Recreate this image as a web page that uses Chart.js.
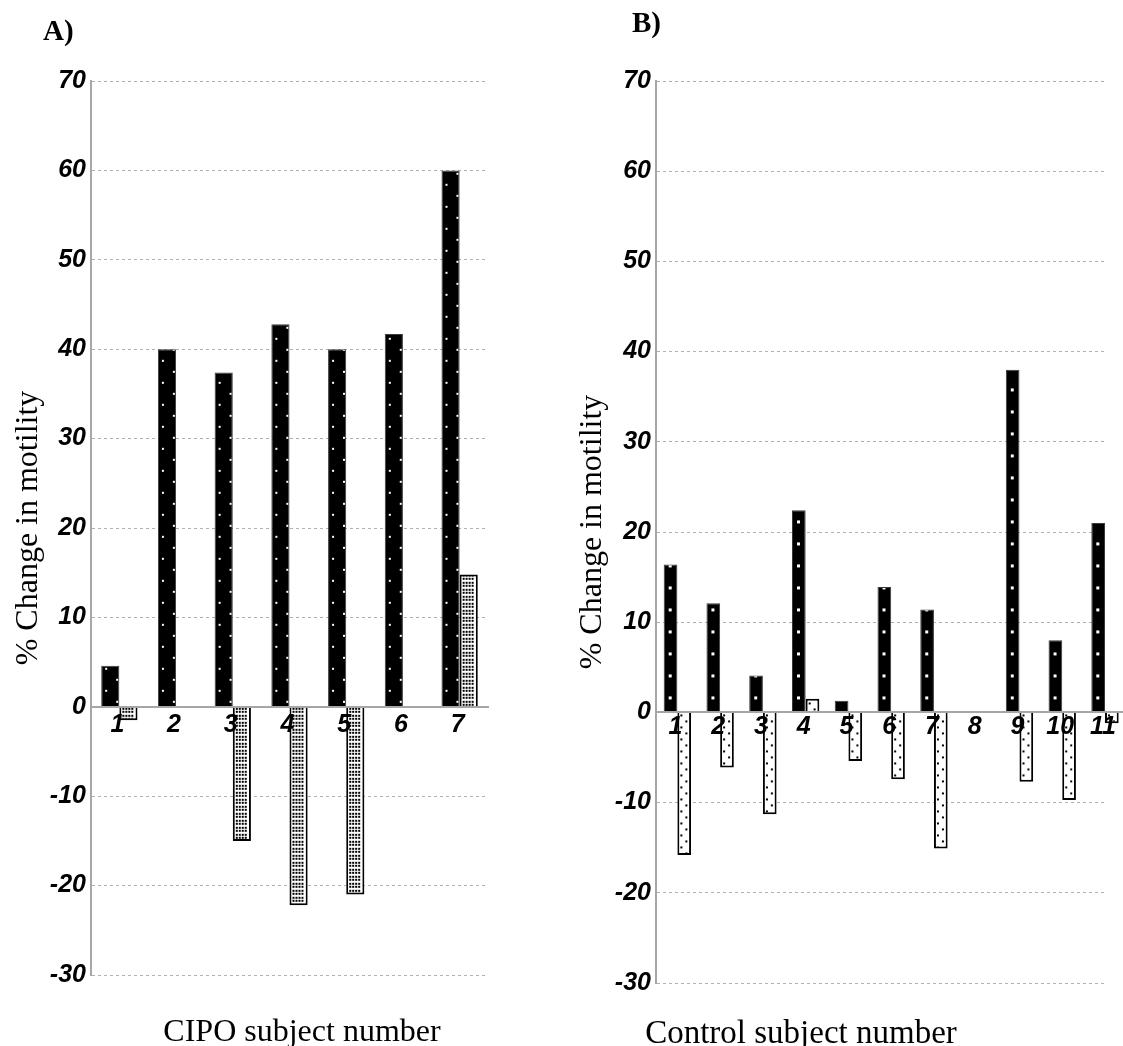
<!DOCTYPE html>
<html>
<head>
<meta charset="utf-8">
<script src="https://cdn.jsdelivr.net/npm/chart.js@4.4.1/dist/chart.umd.min.js"></script>
<style>
  html, body { margin: 0; padding: 0; background: #fff; }
  #wrap { position: relative; width: 1123px; height: 1046px; overflow: hidden; background: #fff; }
  canvas { position: absolute; top: 0; }
  .panel { position: absolute; font: bold 29px 'Liberation Serif', 'DejaVu Serif', serif; line-height: 1; color: #000; }
  .xtitle { position: absolute; width: 440px; text-align: center; font: 32px 'Liberation Serif', 'DejaVu Serif', serif; line-height: 1; color: #000; white-space: nowrap; }
</style>
</head>
<body>
<div id="wrap">
  <canvas id="chartA" width="540" height="1046" style="left:0px"></canvas>
  <canvas id="chartB" width="563" height="1046" style="left:560px"></canvas>
  <div class="panel" style="left:43px; top:16px;">A)</div>
  <div class="panel" style="left:632px; top:8px;">B)</div>
  <div class="xtitle" style="left:82px; top:1014px;">CIPO subject number</div>
  <div class="xtitle" style="left:581px; top:1016px; font-size:33px;">Control subject number</div>
</div>
<script>
// Panel A: CIPO subjects
const cipoSubjects = [1, 2, 3, 4, 5, 6, 7];
const cipoDark  = [4.6, 40.0, 37.4, 42.8, 40.0, 41.7, 60.0];
const cipoLight = [-1.5, null, -15.0, -22.2, -21.0, null, 14.8];

// Panel B: control subjects
const controlSubjects = [1, 2, 3, 4, 5, 6, 7, 8, 9, 10, 11];
const controlDark  = [16.4, 12.1, 4.1, 22.4, 1.3, 13.9, 11.4, null, 38.0, 8.0, 21.0];
const controlLight = [-15.8, -6.1, -11.3, 1.5, -5.4, -7.4, -15.1, null, -7.7, -9.7, -1.2];

// Shared axis settings
const yMin = -30, yMax = 70, yStep = 10;
const yTitle = '% Change in motility';

const GROUP = 0.64;            // share of each subject slot used by the pair of bars
const tickFont = { family: "'Liberation Sans', Arial, sans-serif", size: 25, weight: 'bold', style: 'italic' };
const titleFont = { family: "'Liberation Serif', 'Times New Roman', serif", size: 32 };
const axisGray = '#a6a6a6';

// Dot fills for the bars, anchored to the first bar of the series so every bar
// gets the same dot layout.
function dotPattern(chart, key, spec) {
  chart.$patterns = chart.$patterns || {};
  if (chart.$patterns[key]) return chart.$patterns[key];
  const x = chart.scales.x, y = chart.scales.y;
  if (!x || !y) return spec.bg;
  const step = x.getPixelForValue(2) - x.getPixelForValue(1);
  if (!isFinite(step) || step < 2) return spec.bg;
  const barW = step * GROUP / 2;
  const left0 = x.getPixelForValue(spec.first) - step * GROUP / 2 + (spec.second ? barW : 0);
  const W = Math.max(1, Math.round(step));
  const tile = document.createElement('canvas');
  tile.width = W; tile.height = spec.h;
  const t = tile.getContext('2d');
  t.fillStyle = spec.bg; t.fillRect(0, 0, W, spec.h);
  t.fillStyle = spec.fg;
  spec.dots.forEach(([dx, dy]) => t.fillRect(dx, dy, spec.size, spec.size));
  const p = chart.ctx.createPattern(tile, 'repeat');
  p.setTransform(new DOMMatrix([step / W, 0, 0, 1, left0, y.getPixelForValue(0)]));
  chart.$patterns[key] = p;
  return p;
}

function gridDots(cols, rows) {
  const out = [];
  rows.forEach(r => cols.forEach(c => out.push([c, r])));
  return out;
}

const specs = {
  aDark:  { first: 1, second: false, h: 22, bg: '#000', fg: '#fff', size: 2, dots: [[4, 5], [15, 16]] },
  aLight: { first: 1, second: true,  h: 7,  bg: '#fff', fg: '#000', size: 2, dots: gridDots([3, 6, 9, 12], [1, 4]) },
  bDark:  { first: 1, second: false, h: 22, bg: '#000', fg: '#fff', size: 3, dots: [[5, 6]] },
  bLight: { first: 1, second: true,  h: 12, bg: '#fff', fg: '#000', size: 2, dots: [[3, 2], [8, 8]] }
};

function pairs(xs, ys) { return xs.map((v, i) => ({ x: v, y: ys[i] })); }

// Zero line of panel B continues to the right edge of the figure.
const zeroLineTail = {
  id: 'zeroLineTail',
  afterDatasetsDraw(chart, args, opts) {
    if (!opts.enabled) return;
    const { ctx, chartArea } = chart;
    const y0 = Math.round(chart.scales.y.getPixelForValue(0));
    ctx.save();
    ctx.strokeStyle = axisGray;
    ctx.lineWidth = 2;
    ctx.beginPath();
    ctx.moveTo(chartArea.right, y0);
    ctx.lineTo(chart.width, y0);
    ctx.stroke();
    ctx.restore();
  }
};

function makeChart(canvasId, subjects, dark, light, cfg) {
  const darkKey = cfg.darkKey, lightKey = cfg.lightKey;
  return new Chart(document.getElementById(canvasId), {
    type: 'bar',
    data: {
      datasets: [
        {
          data: pairs(subjects, dark),
          backgroundColor: c => dotPattern(c.chart, darkKey, specs[darkKey]),
          borderColor: '#3a3a3a',
          borderWidth: 1,
          categoryPercentage: GROUP,
          barPercentage: 1,
          clip: false
        },
        {
          data: pairs(subjects, light),
          backgroundColor: c => dotPattern(c.chart, lightKey, specs[lightKey]),
          borderColor: '#000',
          borderWidth: 2,
          categoryPercentage: GROUP,
          barPercentage: 1,
          clip: false
        }
      ]
    },
    options: {
      responsive: false,
      animation: false,
      devicePixelRatio: 1,
      layout: { padding: cfg.padding },
      plugins: { legend: { display: false }, tooltip: { enabled: false }, zeroLineTail: { enabled: cfg.tail } },
      scales: {
        x: {
          type: 'linear',
          position: { y: 0 },
          min: 0.5,
          max: cfg.xMax,
          offset: false,
          grid: { display: false, drawTicks: false, offset: false },
          border: { display: true, color: axisGray, width: 2, z: 1 },
          afterBuildTicks: s => { s.ticks = subjects.map(v => ({ value: v })); },
          ticks: { color: '#000', font: tickFont, padding: cfg.xPad, maxRotation: 0, autoSkip: false, labelOffset: cfg.labelOffset, z: 2 }
        },
        y: {
          min: yMin,
          max: yMax,
          afterFit: s => { s.width = cfg.yWidth; },
          grid: { color: '#b0b0b0', lineWidth: 1, drawTicks: false },
          border: { display: true, color: axisGray, width: 2, dash: [3, 3] },
          ticks: { stepSize: yStep, color: '#000', font: tickFont, padding: 5 },
          title: { display: true, text: yTitle, color: '#000', font: titleFont, padding: { top: cfg.titlePad, bottom: 0 } }
        }
      }
    },
    plugins: [zeroLineTail]
  });
}

makeChart('chartA', cipoSubjects, cipoDark, cipoLight, {
  darkKey: 'aDark', lightKey: 'aLight',
  padding: { top: 81, bottom: 71, left: 0, right: 52 },
  yWidth: 91, xMax: 7.5, xPad: 3, labelOffset: -2, titlePad: 9, tail: false
});

makeChart('chartB', controlSubjects, controlDark, controlLight, {
  darkKey: 'bDark', lightKey: 'bLight',
  padding: { top: 81, bottom: 63, left: 0, right: 18 },
  yWidth: 96, xMax: 11, xPad: 0, labelOffset: -2, titlePad: 13, tail: true
});
</script>
</body>
</html>
